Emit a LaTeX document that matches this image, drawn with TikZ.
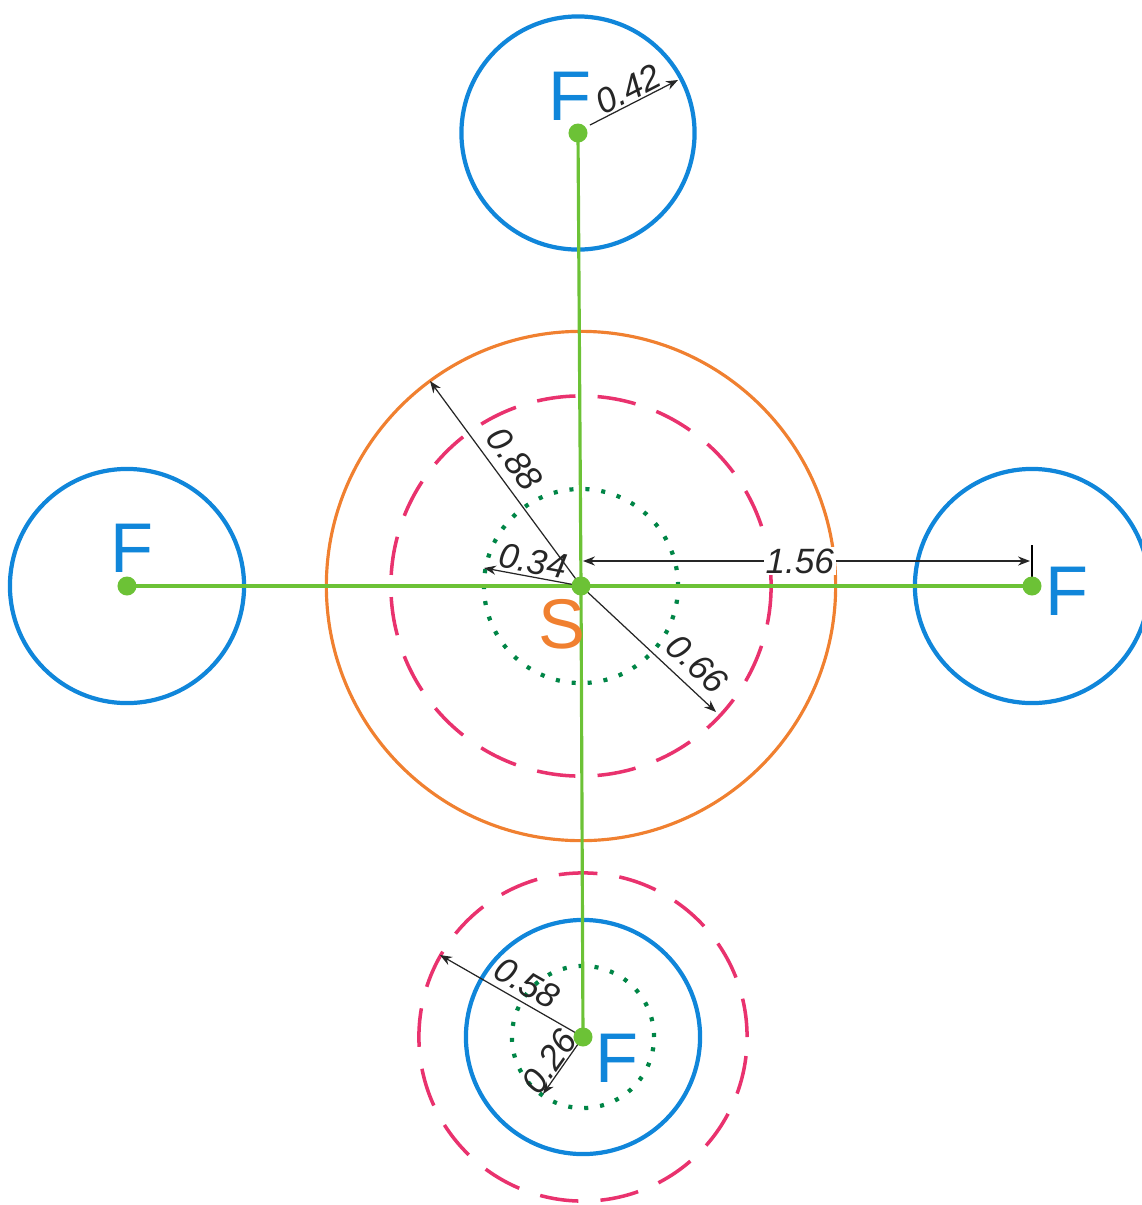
\documentclass[tikz,border=0pt]{standalone}
\usepackage{fontspec}
\setmainfont{Liberation Sans}
\usetikzlibrary{arrows.meta,positioning}
\definecolor{fblue}{RGB}{16,134,218}
\definecolor{sorange}{RGB}{240,128,48}
\definecolor{rpink}{RGB}{233,50,110}
\definecolor{dgreen}{RGB}{0,133,70}
\definecolor{lgreen}{RGB}{108,194,54}
\tikzset{
    body/.style={draw=#1,line width=1.2pt},
    body/.default=fblue,
    ring/.style={draw=rpink,line width=1pt,dash pattern=on 11pt off 6.3pt},
    core/.style={draw=dgreen,line width=1.2pt,dash pattern=on 1.15pt off 3.4pt},
    link/.style={draw=lgreen,line width=0.9pt},
    dot/.style={circle,fill=lgreen,inner sep=0pt,minimum size=0.19cm},
    dim/.style={->,>={Stealth[length=3.4pt,width=2.6pt]},line width=0.35pt,draw=black!85},
    dimlabel/.style={font=\fontsize{10}{10}\selectfont\itshape,inner sep=0.5pt,text=black!85},
    letter/.style={font=\fontsize{20}{20}\selectfont,inner sep=0pt,text=#1},
    letter/.default=fblue
}
\begin{document}
\begin{tikzpicture}[x=0.01cm,y=-0.01cm]
\useasboundingbox (0,0) rectangle (1142,1205);

\coordinate (s) at (581,586);
\coordinate (ft) at (578,133);
\coordinate (fl) at (127,586);
\coordinate (fr) at (1032,586);
\coordinate (fb) at (583,1037);

% bodies and zones
\draw[body=sorange,line width=0.9pt] (s) circle[radius=2.545cm];
\draw[ring] (s) circle[radius=1.9cm];
\draw[core] (s) circle[radius=0.97cm];
\draw[body] (ft) circle[radius=1.165cm];
\draw[body] (fl) circle[radius=1.17cm];
\draw[body] (fr) circle[radius=1.17cm];
\draw[body] (fb) circle[radius=1.17cm];
\draw[ring] (fb) circle[radius=1.64cm];
\draw[core] (fb) circle[radius=0.71cm];

% links
\draw[link] (fl) -- (s) -- (fr);
\draw[link] (ft) -- (s) -- (fb);

% dimensions
\coordinate (e88) at (430,381);
\coordinate (e34) at (484,568);
\coordinate (e66) at (716,712);
\coordinate (a42) at (590,125);
\coordinate (e42) at (678,80);
\coordinate (e58) at (440,955);
\coordinate (e26) at (543,1094);
\coordinate (a156) at (583,561);
\coordinate (e156) at (1030,561);
\coordinate (t1) at (1032,545);
\coordinate (t2) at (1032,592);

\draw[dim] (s) -- (e88);
\draw[dim] (s) -- (e34);
\draw[dim] (s) -- (e66);
\draw[dim] (a42) -- (e42);
\draw[dim] (fb) -- (e58);
\draw[dim] (fb) -- (e26);
\draw[dim,<->] (a156) -- (e156)
    node[dimlabel,fill=white,pos=0.485] (l156) {1.56};
\draw[line width=0.35pt] (t1) -- (t2);

\node[dimlabel,rotate=-53.6] (l88) at (515,459) {0.88};
\node[dimlabel,rotate=-10.5] (l34) at (533,561) {0.34};
\node[dimlabel,rotate=-43] (l66) at (697,664) {0.66};
\node[dimlabel,rotate=27.3] (l42) at (628,89) {0.42};
\node[dimlabel,rotate=-29.8] (l58) at (527,983) {0.58};
\node[dimlabel,rotate=55] (l26) at (549,1062) {0.26};

% centres
\node[dot] (S) at (s) {};
\node[dot] (Ft) at (ft) {};
\node[dot] (Fl) at (fl) {};
\node[dot] (Fr) at (fr) {};
\node[dot] (Fb) at (fb) {};

\node[letter] (nt) at (570,96) {F};
\node[letter] (nl) at (132,548) {F};
\node[letter] (nr) at (1067,591) {F};
\node[letter] (nb) at (617,1058) {F};
\node[letter=sorange] (ns) at (562,624) {S};

\end{tikzpicture}
\end{document}
